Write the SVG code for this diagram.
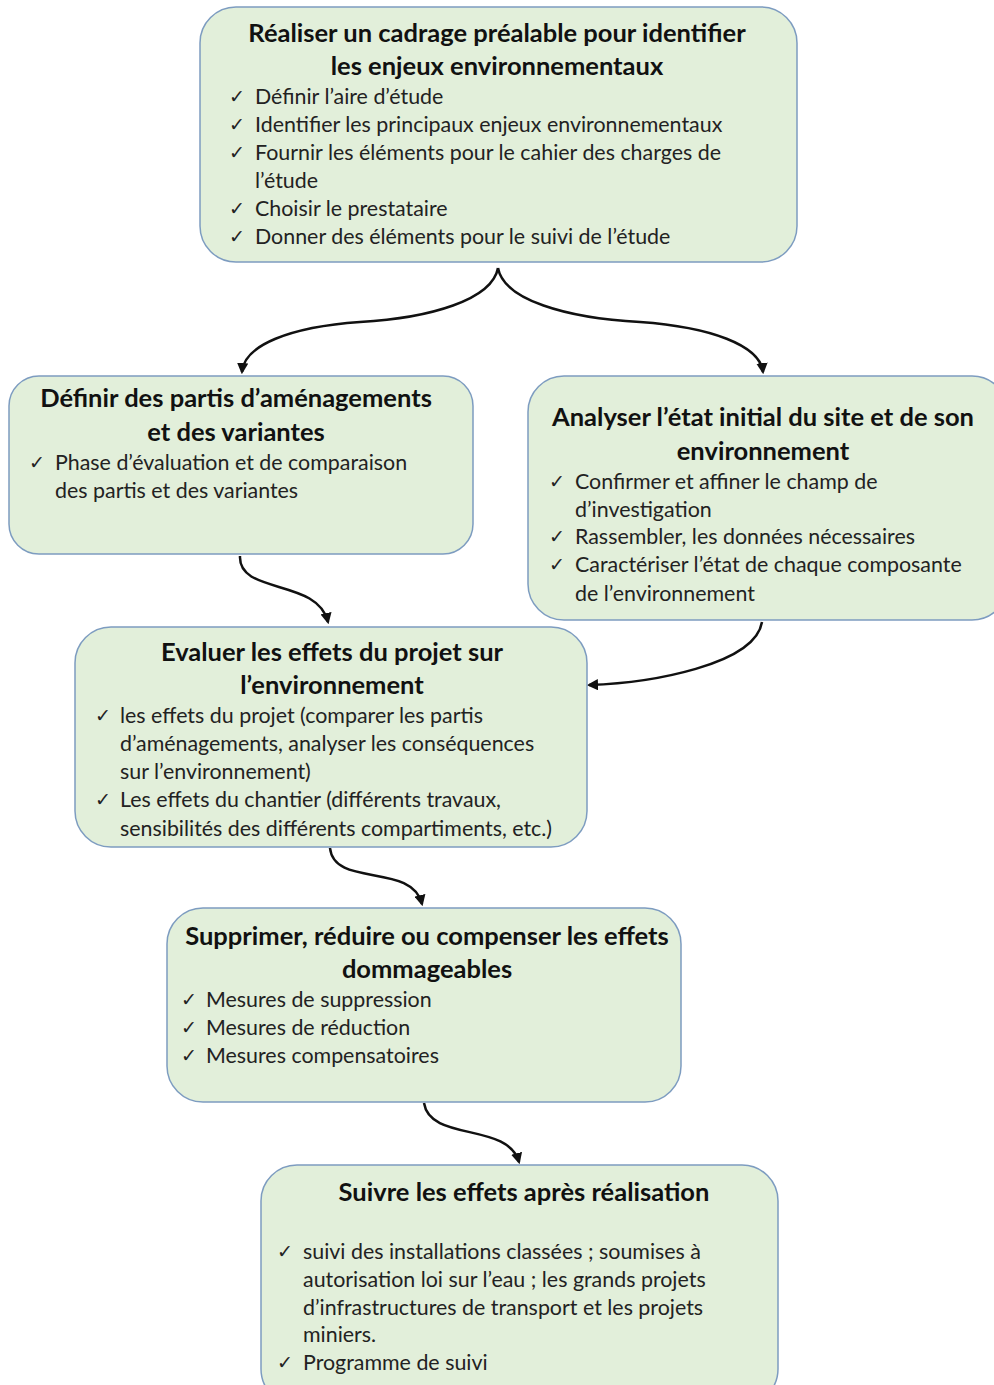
<svg xmlns="http://www.w3.org/2000/svg" width="994" height="1385" viewBox="0 0 994 1385">
<defs>
<style>
.box{fill:#e2efda;stroke:#7d9cc0;stroke-width:1.5}
.t{font-family:Lato,"Liberation Sans",sans-serif;font-weight:bold;font-size:25.5px;fill:#111;text-anchor:middle}
.b{font-family:Lato,"Liberation Sans",sans-serif;font-size:21.4px;fill:#222}
.c{font-family:"DejaVu Sans",sans-serif;font-size:19px;fill:#222}
.con{fill:none;stroke:#111;stroke-width:2.5}
</style>
<marker id="ah" viewBox="0 0 10 10" refX="8" refY="5" markerWidth="4.5" markerHeight="4.5" orient="auto" markerUnits="strokeWidth">
<path d="M0,0 L10,5 L0,10 z" fill="#111"/>
</marker>
</defs>
<rect width="994" height="1385" fill="#fff"/>
<g id="connectors">
<path class="con" marker-end="url(#ah)" d="M498,268 C492,300 430,318 360,322 C290,327 244,345 242,372"/>
<path class="con" marker-end="url(#ah)" d="M498,268 C504,300 566,318 640,322 C710,327 760,345 763,372"/>
<path class="con" marker-end="url(#ah)" d="M240,556 C238,595 318,578 328,622"/>
<path class="con" marker-end="url(#ah)" d="M762,622 C755,665 650,683 589,685"/>
<path class="con" marker-end="url(#ah)" d="M330,848 C334,888 412,862 422,904"/>
<path class="con" marker-end="url(#ah)" d="M424,1103 C430,1142 508,1122 519,1162"/>
</g>
<g id="n1">
<rect class="box" x="200" y="7" width="597" height="255" rx="36"/>
<text class="t" x="497" y="42">Réaliser un cadrage préalable pour identifier</text>
<text class="t" x="497" y="75">les enjeux environnementaux</text>
<text class="c" x="229" y="103">✓</text><text class="b" x="255" y="104">Définir l’aire d’étude</text>
<text class="c" x="229" y="131">✓</text><text class="b" x="255" y="132">Identifier les principaux enjeux environnementaux</text>
<text class="c" x="229" y="159">✓</text><text class="b" x="255" y="160">Fournir  les éléments pour  le cahier des charges de</text>
<text class="b" x="255" y="188">l’étude</text>
<text class="c" x="229" y="215">✓</text><text class="b" x="255" y="216">Choisir le prestataire</text>
<text class="c" x="229" y="243">✓</text><text class="b" x="255" y="244">Donner des éléments pour le suivi de l’étude</text>
</g>
<g id="n2">
<rect class="box" x="9" y="376" width="464" height="178" rx="30"/>
<text class="t" x="236" y="407">Définir des partis d’aménagements</text>
<text class="t" x="236" y="441">et des variantes</text>
<text class="c" x="29" y="469">✓</text><text class="b" x="55" y="470">Phase d’évaluation et de comparaison</text>
<text class="b" x="55" y="498">des partis et des variantes</text>
</g>
<g id="n3">
<rect class="box" x="528" y="376" width="480" height="244" rx="36"/>
<text class="t" x="763" y="426">Analyser l’état initial du site et de son</text>
<text class="t" x="763" y="460">environnement</text>
<text class="c" x="549" y="488">✓</text><text class="b" x="575" y="489">Confirmer et affiner le champ de</text>
<text class="b" x="575" y="517">d’investigation</text>
<text class="c" x="549" y="543">✓</text><text class="b" x="575" y="544">Rassembler, les données nécessaires</text>
<text class="c" x="549" y="571">✓</text><text class="b" x="575" y="572">Caractériser l’état de chaque composante</text>
<text class="b" x="575" y="601">de l’environnement</text>
</g>
<g id="n4">
<rect class="box" x="75" y="627" width="512" height="220" rx="36"/>
<text class="t" x="332" y="661">Evaluer les effets du projet sur</text>
<text class="t" x="332" y="694">l’environnement</text>
<text class="c" x="95" y="722">✓</text><text class="b" x="120" y="723">les effets du projet (comparer les partis</text>
<text class="b" x="120" y="751">d’aménagements, analyser les conséquences</text>
<text class="b" x="120" y="779">sur l’environnement)</text>
<text class="c" x="95" y="806">✓</text><text class="b" x="120" y="807">Les effets du chantier (différents travaux,</text>
<text class="b" x="120" y="836">sensibilités des différents compartiments, etc.)</text>
</g>
<g id="n5">
<rect class="box" x="167" y="908" width="514" height="194" rx="36"/>
<text class="t" x="427" y="945">Supprimer, réduire ou compenser les effets</text>
<text class="t" x="427" y="978">dommageables</text>
<text class="c" x="181" y="1006">✓</text><text class="b" x="206" y="1007">Mesures de suppression</text>
<text class="c" x="181" y="1034">✓</text><text class="b" x="206" y="1035">Mesures de réduction</text>
<text class="c" x="181" y="1062">✓</text><text class="b" x="206" y="1063">Mesures compensatoires</text>
</g>
<g id="n6">
<rect class="box" x="261" y="1165" width="517" height="240" rx="36"/>
<text class="t" x="524" y="1201">Suivre les effets après réalisation</text>
<text class="c" x="277" y="1258">✓</text><text class="b" x="303" y="1259">suivi des installations classées ; soumises à</text>
<text class="b" x="303" y="1287">autorisation loi sur l’eau ; les grands projets</text>
<text class="b" x="303" y="1315">d’infrastructures de transport et les projets</text>
<text class="b" x="303" y="1342">miniers.</text>
<text class="c" x="277" y="1369">✓</text><text class="b" x="303" y="1370">Programme  de suivi</text>
</g>
</svg>
